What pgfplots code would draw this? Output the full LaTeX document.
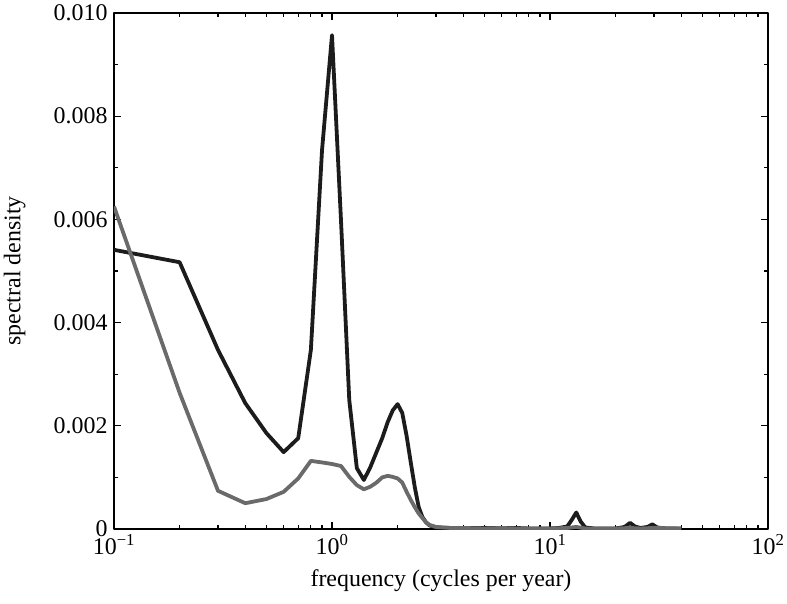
\documentclass[border=0pt]{standalone}
\usepackage{fontspec}
\setmainfont{Liberation Serif}
\usepackage{pgfplots}
\pgfplotsset{compat=1.18}
\definecolor{darkcurve}{HTML}{1C1C1C}
\definecolor{greycurve}{HTML}{6A6A6A}
\begin{document}
\begin{tikzpicture}
	\begin{axis}[
		scale only axis,
		width=654bp,
		height=516bp,
		xmode=log,
		xmin=0.1, xmax=100,
		ymin=0, ymax=0.010,
		xtick={0.1,1,10,100},
		xticklabels={10\textsuperscript{−1},10\textsuperscript{0},10\textsuperscript{1},10\textsuperscript{2}},
		ytick={0,0.002,0.004,0.006,0.008,0.010},
		yticklabels={0,0.002,0.004,0.006,0.008,0.010},
		minor ytick={0.001,0.003,0.005,0.007,0.009},
		scaled y ticks=false,
		major tick length=7bp,
		minor tick length=4bp,
		every tick/.style={black, line width=1.2bp},
		axis line style={line width=1.6bp},
		font=\fontsize{24}{28}\selectfont,
		yticklabel style={xshift=-3bp},
		xticklabel style={yshift=-2bp},
		xlabel={frequency (cycles per year)},
		ylabel={spectral density},
		xlabel style={at={(axis description cs:0.5,-0.072)}, anchor=north},
		ylabel style={at={(axis description cs:-0.13,0.5)}, anchor=south},
		line join=round,
	]
		% dark curve
		\addplot[darkcurve, line width=3.8bp] table {
			0.1 0.00541
			0.2 0.00517
			0.3 0.00347
			0.4 0.00244
			0.5 0.00186
			0.6 0.00149
			0.7 0.00176
			0.8 0.00347
			0.9 0.00734
			1.0 0.00957
			1.1 0.00597
			1.2 0.00250
			1.3 0.00118
			1.4 0.00095
			1.5 0.00120
			1.6 0.00149
			1.7 0.00176
			1.8 0.00207
			1.9 0.00230
			2.0 0.00242
			2.1 0.00225
			2.2 0.00180
			2.3 0.00128
			2.4 0.00080
			2.5 0.00042
			2.6 0.00023
			2.7 0.00013
			2.8 0.00007
			3.0 0.00003
			3.5 0.00002
			4.0 0.00002
			5.0 0.00002
			6.0 0.00002
			7.0 0.00002
			8.0 0.00001
			9.0 0.00001
			10.0 0.00001
			11.0 0.00002
			12.0 0.00005
			12.6 0.00018
			13.2 0.00032
			13.8 0.00015
			14.5 0.00003
			16.0 0.00001
			20.0 0.00001
			22.0 0.00004
			23.3 0.00012
			24.5 0.00005
			26.0 0.00002
			28.0 0.00004
			29.5 0.00009
			31.0 0.00003
			34.0 0.00001
			40.0 0.00001
		};
		% grey curve
		\addplot[greycurve, line width=3.8bp] table {
			0.1 0.00625
			0.2 0.00264
			0.3 0.00074
			0.4 0.00050
			0.5 0.00058
			0.6 0.00072
			0.7 0.00098
			0.8 0.00132
			0.9 0.00129
			1.0 0.00126
			1.1 0.00122
			1.2 0.00101
			1.3 0.00085
			1.4 0.00077
			1.5 0.00082
			1.6 0.00090
			1.7 0.00100
			1.8 0.00103
			1.9 0.00101
			2.0 0.00098
			2.1 0.00090
			2.2 0.00072
			2.3 0.00056
			2.4 0.00042
			2.5 0.00030
			2.6 0.00021
			2.7 0.00013
			2.8 0.00008
			3.0 0.00004
			3.5 0.00002
			4.0 0.00002
			5.0 0.00001
			6.0 0.00002
			7.0 0.00001
			8.0 0.00001
			10.0 0.00001
			12.0 0.00002
			13.2 0.00004
			14.5 0.00001
			20.0 0.00001
			23.3 0.00002
			26.0 0.00001
			29.5 0.00002
			40.0 0.00001
		};
	\end{axis}
	\pgfresetboundingbox
	\path[use as bounding box] ([xshift=-114bp,yshift=-75bp]current axis.south west) rectangle ([xshift=19bp,yshift=13bp]current axis.north east);
\end{tikzpicture}
\end{document}
